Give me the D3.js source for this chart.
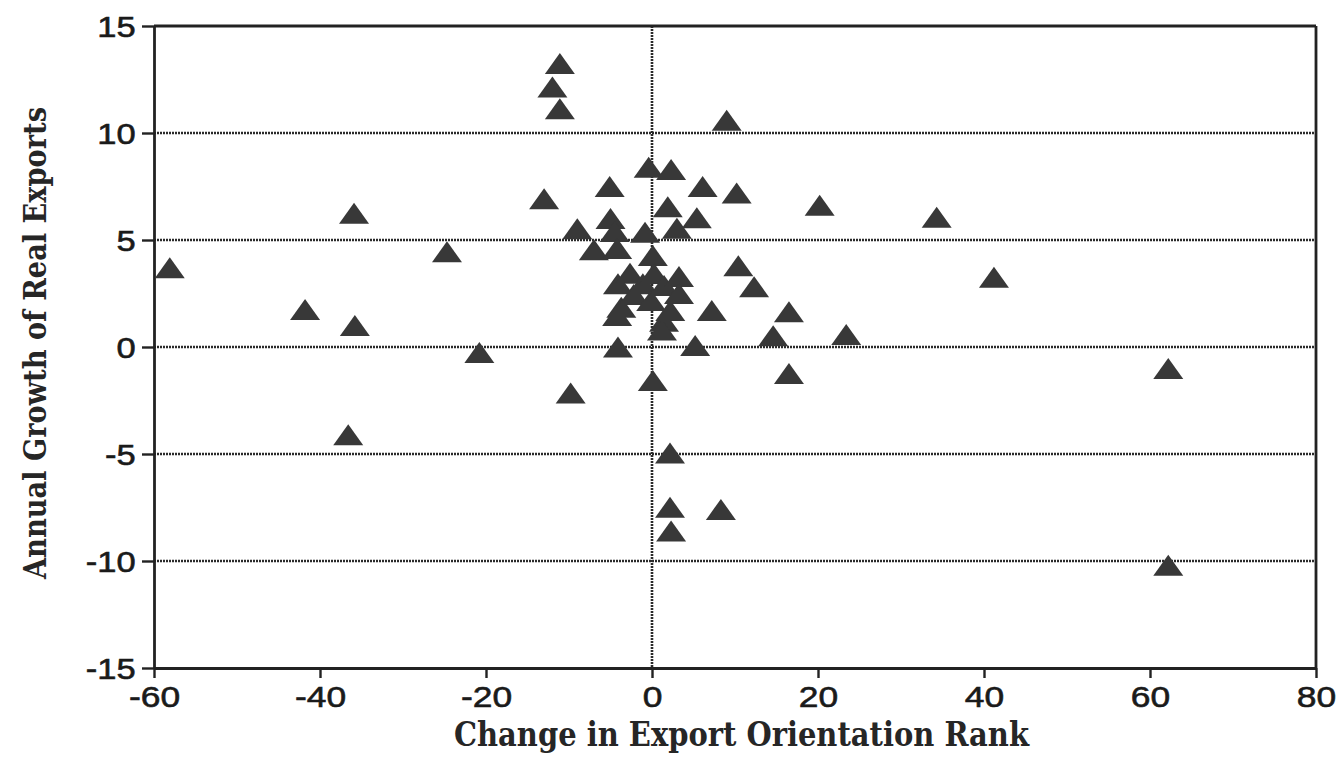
<!DOCTYPE html>
<html>
<head>
<meta charset="utf-8">
<script src="https://cdn.jsdelivr.net/npm/d3@7"></script>
<style>
  html, body { margin: 0; padding: 0; background: #ffffff; }
  svg { display: block; }
</style>
</head>
<body>
<svg id="chart" width="1342" height="758"></svg>
<script>
// Change in export orientation rank (x) vs. annual growth of real exports (y), one entry per country
const changeRank = [
  -58.1, -41.8, -35.9, -35.8, -36.6, -24.7, -20.8, -13.0, -12.0, -11.1,
  -11.1,  -9.8,  -9.0,  -7.0,  -5.1,  -5.0,  -4.5,  -4.2,  -4.1,  -4.2,
   -3.7,  -4.1,  -2.65, -2.2,  -1.1,  -0.84, -0.1,  -0.4,   0.1,   0.24,
    0.1,   1.45,  1.45,  1.2,   1.9,   2.2,   2.3,   2.17,  2.17,  2.3,
    3.0,   3.25,  3.25,  5.2,   5.4,   6.1,   7.2,   8.3,   9.0,  10.2,
   10.4,  12.3,  14.6,  16.5,  16.5,  20.2,  23.4,  34.3,  41.2,  62.2,
   62.2
];
const exportGrowth = [
   3.7,   1.75,  6.25,  1.0,  -4.1,   4.45, -0.26,  6.93, 12.15, 13.25,
  11.13, -2.15,  5.53,  4.55,  7.5,   6.0,   5.4,   4.6,   2.96,  1.47,
   1.86,  0.0,   3.45,  2.45,  2.96,  5.36,  2.17,  8.4,   4.27,  3.43,
  -1.57,  2.87,  1.2,   0.8,   6.55,  1.7,   8.3,  -4.95, -7.49, -8.6,
   5.55,  3.29,  2.5,   0.07,  6.04,  7.5,   1.7,  -7.59, 10.6,   7.2,
   3.8,   2.82,  0.53,  1.65, -1.24,  6.62,  0.58,  6.06,  3.26, -1.0,
 -10.2
];

const xTicks = [-60, -40, -20, 0, 20, 40, 60, 80];
const yTicks = [-15, -10, -5, 0, 5, 10, 15];
const yGrid = [-10, -5, 0, 5, 10];

const xTitle = "Change in Export Orientation Rank";
const yTitle = "Annual Growth of Real Exports";

const svg = d3.select("#chart");

const x = d3.scaleLinear().domain([-60, 80]).range([154, 1316]);
const y = d3.scaleLinear().domain([-15, 15]).range([668, 26]);

const ink = "#222222";
const markFill = "#383838";
const plainNumber = d => String(d);   // ASCII hyphen for negatives

// dotted reference lines
const grid = svg.append("g");
grid.selectAll("line.h").data(yGrid).join("line")
  .attr("x1", x(-60)).attr("x2", x(80))
  .attr("y1", d => y(d)).attr("y2", d => y(d))
  .attr("stroke", "#2a2a2a").attr("stroke-width", 2.6)
  .attr("stroke-dasharray", "2,1");
grid.append("line")
  .attr("x1", x(0)).attr("x2", x(0))
  .attr("y1", y(15)).attr("y2", y(-15))
  .attr("stroke", "#2a2a2a").attr("stroke-width", 2.6)
  .attr("stroke-dasharray", "2,1");

// frame: top and right sides
svg.append("line")
  .attr("x1", x(-60)).attr("x2", x(80))
  .attr("y1", y(15)).attr("y2", y(15))
  .attr("stroke", ink).attr("stroke-width", 2.8);
svg.append("line")
  .attr("x1", x(80)).attr("x2", x(80))
  .attr("y1", y(15)).attr("y2", y(-15))
  .attr("stroke", ink).attr("stroke-width", 2.8);

// axes
const xAxis = svg.append("g")
  .attr("transform", `translate(0,${y(-15)})`)
  .call(d3.axisBottom(x).tickValues(xTicks).tickFormat(plainNumber)
    .tickSize(10).tickPadding(8).tickSizeOuter(0));
const yAxis = svg.append("g")
  .attr("transform", `translate(${x(-60)},0)`)
  .call(d3.axisLeft(y).tickValues(yTicks).tickFormat(plainNumber)
    .tickSize(12).tickPadding(4).tickSizeOuter(0));

[xAxis, yAxis].forEach(g => {
  g.select(".domain").attr("stroke", ink).attr("stroke-width", 2.8);
  g.selectAll(".tick line").attr("stroke", ink).attr("stroke-width", 2.4);
  g.selectAll(".tick text")
    .attr("fill", "#1a1a1a")
    .attr("stroke", "#1a1a1a").attr("stroke-width", 0.6)
    .style("font-family", "'Liberation Sans', Arial, sans-serif")
    .style("font-size", "30px");
});
xAxis.selectAll(".tick text").attr("transform", "scale(1.18,1)");
yAxis.selectAll(".tick text").attr("transform", "scale(1.15,1)").attr("dy", "0.34em");

// markers: filled triangles centred on each value
const triW = 30, triH = 21;
const triangle = `M0,${-triH / 2}L${triW / 2},${triH / 2}L${-triW / 2},${triH / 2}Z`;
svg.append("g").selectAll("path").data(d3.range(changeRank.length)).join("path")
  .attr("d", triangle)
  .attr("transform", i => `translate(${x(changeRank[i])},${y(exportGrowth[i])})`)
  .attr("fill", markFill);

// axis titles
svg.append("text")
  .attr("x", (454 + 1029) / 2).attr("y", 746)
  .attr("text-anchor", "middle")
  .attr("textLength", 575).attr("lengthAdjust", "spacingAndGlyphs")
  .style("font-family", "'DejaVu Serif', 'Liberation Serif', serif")
  .style("font-weight", "bold").style("font-size", "34px")
  .attr("fill", "#262626")
  .text(xTitle);

svg.append("text")
  .attr("transform", "translate(46,343) rotate(-90)")
  .attr("text-anchor", "middle")
  .attr("textLength", 472).attr("lengthAdjust", "spacingAndGlyphs")
  .style("font-family", "'DejaVu Serif', 'Liberation Serif', serif")
  .style("font-weight", "bold").style("font-size", "32px")
  .attr("fill", "#262626")
  .text(yTitle);
</script>
</body>
</html>
